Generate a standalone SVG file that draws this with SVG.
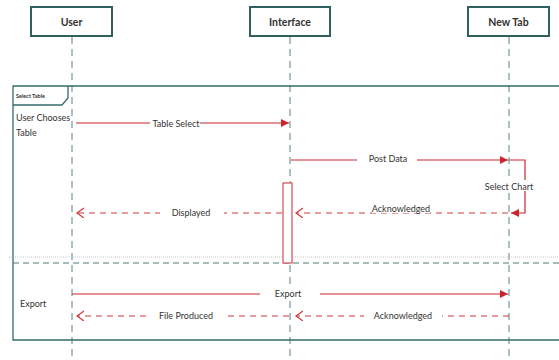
<svg xmlns="http://www.w3.org/2000/svg" width="559" height="360" viewBox="0 0 559 360">
<style>
text{font-family:Lato,"Open Sans","Liberation Sans",sans-serif;fill:#333}
.box{fill:#fff;stroke:#2f5f5f;stroke-width:2}
.hd{font-size:10.5px;font-weight:bold;text-anchor:middle}
.life{stroke:#7f9fa3;stroke-width:1.3;stroke-dasharray:7,5;fill:none}
.frame{fill:none;stroke:#356b6b;stroke-width:1.3}
.msg{stroke:#c8262c;stroke-width:1.2;fill:none}
.dash{stroke:#d0383c;stroke-width:1.2;fill:none;stroke-dasharray:6,5}
.lbl{font-size:9px;text-anchor:middle}
.bg{fill:#fff}
</style>
<defs>
<marker id="fill" markerWidth="10" markerHeight="10" refX="8" refY="4" orient="auto" markerUnits="userSpaceOnUse">
<path d="M0,0 L8,4 L0,8 z" fill="#c8262c"/>
</marker>
<marker id="open" markerWidth="12" markerHeight="12" refX="7" refY="5" orient="auto" markerUnits="userSpaceOnUse">
<path d="M0,0 L7,5 L0,10" fill="none" stroke="#d0383c" stroke-width="1.2"/>
</marker>
</defs>
<rect width="559" height="360" fill="#fff"/>
<g id="lifelines">
<line class="life" x1="72" y1="37" x2="72" y2="360"/>
<line class="life" x1="290" y1="37" x2="290" y2="360"/>
<line class="life" x1="509" y1="37" x2="509" y2="360"/>
</g>
<g id="frame">
<polyline class="frame" points="559,86 13,86 13,340 559,340"/>
<polyline class="frame" points="68,86 68,98 62,105 13,105"/>
<text x="16" y="98" style="font-size:5.5px;font-weight:bold">Select Table</text>
<line x1="9" y1="257" x2="559" y2="257" stroke="#bbb" stroke-width="0.8" stroke-dasharray="1,1"/>
<line x1="13" y1="263" x2="559" y2="263" stroke="#4d7b78" stroke-width="1.1" stroke-dasharray="6,4"/>
<text x="16" y="121" style="font-size:9px">User Chooses</text>
<text x="16" y="136" style="font-size:9px">Table</text>
<text x="20" y="307" style="font-size:9px">Export</text>
</g>
<g id="user"><rect class="box" x="31" y="7" width="81" height="29"/><text class="hd" x="71.5" y="25.5">User</text></g>
<g id="interface"><rect class="box" x="250" y="7" width="80" height="29"/><text class="hd" x="290" y="25.5">Interface</text></g>
<g id="newtab"><rect class="box" x="468" y="7" width="81" height="29"/><text class="hd" x="508.5" y="25.5">New Tab</text></g>
<g id="activation"><rect x="283" y="183" width="9" height="80" fill="#fff" stroke="#d05055" stroke-width="1.2"/></g>
<g id="connectors">
<line class="msg" x1="76" y1="123" x2="289" y2="123" marker-end="url(#fill)"/>
<rect class="bg" x="150" y="117" width="50" height="11"/>
<text class="lbl" x="176" y="127">Table Select</text>
<line class="msg" x1="291" y1="160" x2="508" y2="160" marker-end="url(#fill)"/>
<rect class="bg" x="357" y="153" width="60" height="11"/>
<text class="lbl" x="388" y="162">Post Data</text>
<polyline class="msg" points="509,160 525,160 525,213 511,213" marker-end="url(#fill)"/>
<rect class="bg" x="483" y="180" width="52" height="11"/>
<text class="lbl" x="509" y="190">Select Chart</text>
<line class="dash" x1="508" y1="213" x2="296" y2="213" marker-end="url(#open)"/>
<rect class="bg" x="372" y="204" width="58" height="9"/>
<text class="lbl" x="401" y="212">Acknowledged</text>
<line class="dash" x1="282" y1="213" x2="77" y2="213" marker-end="url(#open)"/>
<rect class="bg" x="160" y="206" width="64" height="11"/>
<text class="lbl" x="191" y="216">Displayed</text>
<line class="msg" x1="72" y1="294" x2="508" y2="294" marker-end="url(#fill)"/>
<rect class="bg" x="260" y="288" width="60" height="11"/>
<text class="lbl" x="288" y="297">Export</text>
<line class="dash" x1="289" y1="316" x2="77" y2="316" marker-end="url(#open)"/>
<rect class="bg" x="148" y="310" width="76" height="11"/>
<text class="lbl" x="186" y="319">File Produced</text>
<line class="dash" x1="509" y1="316" x2="296" y2="316" marker-end="url(#open)"/>
<rect class="bg" x="364" y="310" width="78" height="11"/>
<text class="lbl" x="403" y="319">Acknowledged</text>
</g>
</svg>
